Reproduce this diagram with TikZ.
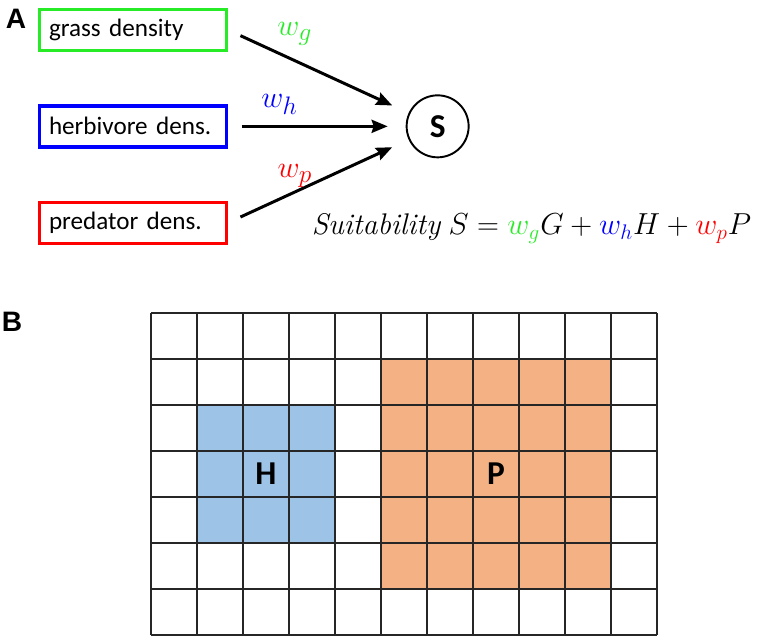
\documentclass[tikz,border=0pt]{standalone}
\usepackage{fontspec}
\setsansfont{Carlito}
\newfontfamily\panelfont{Liberation Sans}
\usepackage{xcolor}
\usepackage{tikz}
\usetikzlibrary{arrows.meta, positioning, calc}

\definecolor{gcol}{RGB}{40,235,40}
\definecolor{hcol}{RGB}{0,0,255}
\definecolor{pcol}{RGB}{255,0,0}
\definecolor{hfill}{RGB}{157,195,230}
\definecolor{pfill}{RGB}{244,177,131}

\begin{document}
\begin{tikzpicture}[
        factor/.style={
            rectangle, draw, line width=1.9pt, text width=3.36cm, inner xsep=0.19cm,
            minimum height=0.82cm, align=left, text=black,
            font=\sffamily\fontsize{14.3}{17}\selectfont
        },
        score/.style={
            circle, draw, line width=1.1pt, minimum size=1.24cm, inner sep=0pt,
            font=\sffamily\bfseries\fontsize{19}{22}\selectfont
        },
        arr/.style={-{Stealth[length=0.32cm, width=0.26cm, inset=0.04cm]}, line width=1.7pt,
            shorten <=0.27cm, shorten >=0.36cm},
        wlbl/.style={inner sep=1pt, font=\fontsize{19}{22}\selectfont},
        eqlbl/.style={inner sep=1pt, font=\fontsize{17}{20}\selectfont},
        panel/.style={font=\panelfont\bfseries\fontsize{16}{18}\selectfont},
        patch/.style={font=\sffamily\bfseries\fontsize{19}{22}\selectfont},
        cellline/.style={line width=1pt, black!85}
    ]
    \useasboundingbox (0,0) rectangle (15.24,12.72);

    % === A: weighted suitability ===
    \node[panel] (lblA) at (0.32,12.35) {A};
    \node[factor, draw=gcol] (grass) at (2.66,12.12) {grass density};
    \node[factor, draw=hcol, below=1.04cm of grass] (herb) {herbivore dens.};
    \node[factor, draw=pcol, below=1.04cm of herb] (pred) {predator dens.};
    \node[score, right=3.55cm of herb] (S) {S};

    \draw[arr] (grass.east) -- node[wlbl, pos=0.37, above=7pt, text=gcol] {$w_g$} (S);
    \draw[arr] (herb.east) -- node[wlbl, pos=0.29, above=5pt, text=hcol] {$w_h$} (S);
    \draw[arr] (pred.east) -- node[wlbl, pos=0.37, above=1pt, text=pcol] {$w_p$} (S);

    \node[eqlbl, anchor=base] (eq) at (10.63,8.02)
        {$\mathit{Suitability}\;S=\textcolor{gcol}{w_g}G+\textcolor{hcol}{w_h}H+\textcolor{pcol}{w_p}P$};

    % === B: habitat grid ===
    \node[panel] (lblB) at (0.24,6.28) {B};
    \begin{scope}[shift={(3.02,0.02)}, x=0.92cm, y=0.92cm]
        \fill[hfill] (1,2) rectangle (4,5);
        \fill[pfill] (5,1) rectangle (10,6);
        \foreach \i in {0,...,11}
            \draw[cellline] (\i,0) -- (\i,7);
        \foreach \j in {0,...,7}
            \draw[cellline] (0,\j) -- (11,\j);
        \node[patch] (H) at (2.5,3.5) {H};
        \node[patch] (P) at (7.5,3.5) {P};
    \end{scope}
\end{tikzpicture}
\end{document}
